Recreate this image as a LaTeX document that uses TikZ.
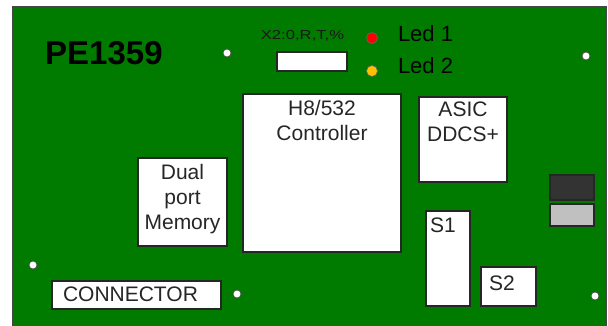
\documentclass[tikz,border=0pt]{standalone}
\usepackage{fontspec}
\setmainfont{Liberation Sans}
\usepackage{graphicx}
\definecolor{pcb}{RGB}{0,123,0}
\definecolor{edge}{RGB}{70,70,70}
\definecolor{ledred}{RGB}{255,0,0}
\definecolor{ledyel}{RGB}{255,192,0}
\definecolor{chipdark}{RGB}{51,51,51}
\definecolor{chiplight}{RGB}{192,192,192}
\tikzset{
  box/.style={draw=black!85, line width=1.3pt, fill=white, anchor=north west, inner sep=0pt, outer sep=0pt},
  hole/.style={circle, draw=black!70, line width=0.7pt, fill=white, minimum size=8pt, inner sep=0pt},
  led/.style={circle, draw=black!60, line width=0.6pt, minimum size=11pt, inner sep=0pt},
  txt/.style={inner sep=0pt, outer sep=0pt, font=\fontsize{21}{25}\selectfont, text=black!85},
}
\begin{document}
\begin{tikzpicture}[x=1pt,y=-1pt]
\useasboundingbox (0,0) rectangle (608,326);
\clip (0,0) rectangle (608,326);
\fill[white] (0,0) rectangle (608,326);
% board
\draw[fill=pcb, draw=edge, line width=1.5pt] (13,7) rectangle (606,340);
% title
\node[inner sep=0pt, anchor=base west, font=\fontsize{33}{36}\selectfont\bfseries] (title) at (45,65) {PE1359};
% holes
\node[hole] (h1) at (227,53) {};
\node[hole] (h2) at (586,56) {};
\node[hole] (h3) at (33,265) {};
\node[hole] (h4) at (237,294) {};
\node[hole] (h5) at (595,296) {};
% X2 connector
\node[inner sep=0pt, anchor=base, font=\fontsize{13}{14}\selectfont, text=black!90] (x2lbl) at (302.5,40) {\scalebox{1.28}[1]{X2:0,R,T,\%}};
\node[box, line width=1.2pt, minimum width=70pt, minimum height=19pt] (x2) at (277,52) {};
% LEDs
\node[led, fill=ledred] (led1) at (372,38) {};
\node[led, fill=ledyel] (led2) at (372,71) {};
\node[txt, anchor=base west, font=\fontsize{22}{25}\selectfont, text=black] (led1t) at (398,42) {Led 1};
\node[txt, anchor=base west, font=\fontsize{22}{25}\selectfont, text=black] (led2t) at (398,74) {Led 2};
% H8 controller
\node[box, minimum width=158pt, minimum height=158pt] (h8) at (243,94) {};
\node[txt, align=center, anchor=north] (h8t) at (322,100) {H8/532\\Controller};
% ASIC
\node[box, minimum width=88pt, minimum height=85pt] (asic) at (419,97) {};
\node[txt, align=center, anchor=north] (asict) at (463,102) {ASIC\\DDCS+};
% Dual port memory
\node[box, minimum width=89pt, minimum height=88pt] (dpm) at (138,158) {};
\node[txt, align=center, anchor=north] (dpmt) at (182.5,164) {Dual\\port\\Memory};
% Connector
\node[box, minimum width=169pt, minimum height=28pt] (conn) at (52,281) {};
\node[txt, anchor=base west] (connt) at (63,301) {CONNECTOR};
% S1, S2
\node[box, minimum width=44pt, minimum height=95pt] (s1) at (426,211) {};
\node[txt, anchor=base west] (s1t) at (430,233) {S1};
\node[box, minimum width=55pt, minimum height=39pt] (s2) at (481,267) {};
\node[txt, anchor=base west] (s2t) at (489,290) {S2};
% small chips
\node[box, fill=chipdark, minimum width=44pt, minimum height=25pt] (c1) at (550,175) {};
\node[box, fill=chiplight, minimum width=44pt, minimum height=22pt] (c2) at (550,204) {};
\end{tikzpicture}
\end{document}
